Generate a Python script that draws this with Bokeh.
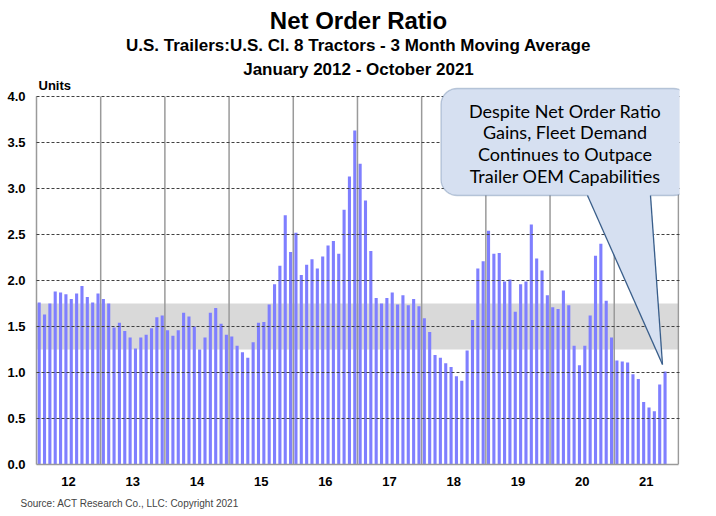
import math
from bokeh.plotting import figure
from bokeh.models import (FixedTicker, BoxAnnotation, PolyAnnotation, Label, Arrow, Title,
                          Range1d, ColumnDataSource, NumeralTickFormatter)
from bokeh.embed import file_html
from bokeh.resources import INLINE

# ---------------- data ----------------
year_labels = ["12", "13", "14", "15", "16", "17", "18", "19", "20", "21"]
ratio_2012 = [1.76, 1.63, 1.75, 1.88, 1.87, 1.85, 1.80, 1.86, 1.94, 1.82, 1.76, 1.86]
ratio_2013 = [1.80, 1.75, 1.49, 1.54, 1.45, 1.38, 1.26, 1.38, 1.41, 1.48, 1.60, 1.62]
ratio_2014 = [1.46, 1.40, 1.46, 1.65, 1.61, 1.50, 1.25, 1.38, 1.65, 1.70, 1.53, 1.41]
ratio_2015 = [1.39, 1.29, 1.22, 1.16, 1.33, 1.54, 1.55, 1.74, 1.96, 2.16, 2.71, 2.31]
ratio_2016 = [2.52, 2.06, 2.17, 2.23, 2.13, 2.26, 2.38, 2.43, 2.29, 2.77, 3.13, 3.63]
ratio_2017 = [3.27, 2.87, 2.32, 1.81, 1.75, 1.81, 1.87, 1.74, 1.84, 1.73, 1.80, 1.72]
ratio_2018 = [1.59, 1.44, 1.19, 1.16, 1.10, 1.06, 0.96, 0.91, 1.24, 1.57, 2.13, 2.21]
ratio_2019 = [2.54, 2.29, 2.30, 1.99, 2.01, 1.66, 1.96, 1.99, 2.61, 2.24, 2.11, 1.84]
ratio_2020 = [1.71, 1.69, 1.89, 1.73, 1.29, 1.08, 1.29, 1.62, 2.27, 2.40, 1.78, 1.38]
ratio_2021 = [1.13, 1.12, 1.11, 0.98, 0.93, 0.68, 0.62, 0.58, 0.87, 1.01]
y_tick_values = [0.0, 0.5, 1.0, 1.5, 2.0, 2.5, 3.0, 3.5, 4.0]
band_low, band_high = 1.25, 1.75

ratio = (ratio_2012 + ratio_2013 + ratio_2014 + ratio_2015 + ratio_2016 +
         ratio_2017 + ratio_2018 + ratio_2019 + ratio_2020 + ratio_2021)
month_pos = [i + 0.5 for i in range(len(ratio))]
n_months = 12 * len(year_labels)
year_bounds = [12 * k for k in range(1, len(year_labels) + 1)]
y_max = y_tick_values[-1]

# ---------------- layout ----------------
W, H = 716, 516
L, R, B = 36, 37, 52          # frame reaches the top of the canvas
X_END = n_months + 0.2        # small margin so the right border line is not clipped
PX_PER_UNIT = 92.0
FW = W - L - R
FH = H - B

def X(px):
    return (px - L) / FW * X_END

def Y(py):
    return (FH - py) / PX_PER_UNIT

p = figure(width=W, height=H, output_backend="svg", toolbar_location=None, title=None,
           x_range=Range1d(0, X_END), y_range=Range1d(0, Y(0)),
           min_border_left=L, min_border_right=R, min_border_top=0, min_border_bottom=B)
p.outline_line_color = None
p.background_fill_color = "white"
p.border_fill_color = "white"

band = BoxAnnotation(bottom=band_low, top=band_high, left=0, right=n_months,
                     fill_color="#D9D9D9", fill_alpha=1.0, line_color=None, level="image")
p.add_layout(band)

src = ColumnDataSource(dict(x=month_pos, top=ratio))
p.vbar(x="x", top="top", width=0.58, source=src, fill_color="#7F7FFF", line_color=None)

# year separators (vertical grid) limited to the value range
p.xgrid.visible = False
p.segment(x0=year_bounds, y0=[0] * len(year_bounds), x1=year_bounds,
          y1=[y_max] * len(year_bounds), line_color="#9A9A9A", line_width=1.5)

p.ygrid.ticker = FixedTicker(ticks=y_tick_values[1:])
p.ygrid.grid_line_color = "#404040"
p.ygrid.grid_line_dash = "3 2"
p.ygrid.grid_line_width = 1
p.ygrid.level = "guide"
p.ygrid.bounds = (0, n_months)

# axes
p.xaxis.ticker = FixedTicker(ticks=[12 * k + 6 for k in range(len(year_labels))])
p.xaxis.major_label_overrides = {12 * k + 6: lab for k, lab in enumerate(year_labels)}
p.xaxis.bounds = (0, n_months)
p.yaxis.ticker = FixedTicker(ticks=y_tick_values)
p.yaxis.formatter = NumeralTickFormatter(format="0.0")
p.yaxis.bounds = (0, y_max)
for ax in (p.xaxis, p.yaxis):
    ax.axis_line_color = "#9A9A9A"
    ax.axis_line_width = 1.5
    ax.major_tick_line_color = None
    ax.minor_tick_line_color = None
    ax.major_label_text_font = "Liberation Sans"
    ax.major_label_text_font_style = "bold"
    ax.major_label_text_font_size = "13px"
    ax.major_label_text_color = "black"
p.xaxis.major_label_standoff = 6
p.yaxis.major_label_standoff = 5

FONT = "Liberation Sans"

def add_text(txt, px, py, size, style="normal", align="center", font=FONT):
    p.add_layout(Label(x=X(px), y=Y(py), text=txt, text_align=align, text_baseline="middle",
                       text_font=font, text_font_size=size, text_font_style=style,
                       text_color="black", level="overlay"))

add_text("Net Order Ratio", 358, 20, "24px", "bold")
add_text("U.S. Trailers:U.S. Cl. 8 Tractors - 3 Month Moving Average", 358, 45, "17px", "bold")
add_text("January 2012 - October 2021", 358, 69, "17px", "bold")
add_text("Units", 38, 85, "13px", "bold", "left")

p.add_layout(Title(text="Source:  ACT Research Co., LLC: Copyright  2021", align="left",
                   offset=-16, text_font=FONT, text_font_size="10px",
                   text_font_style="normal", standoff=15), "below")

# callout: rounded box + tail
fill_c, edge_c = "#D6E0F1", "#385D8A"
bx0, bx1, by0, by1, rad = 440.5, 689.0, 88.0, 195.0, 16.0
pts = []
for cx, cy, a0 in ((bx1 - rad, by0 + rad, -90), (bx1 - rad, by1 - rad, 0),
                   (bx0 + rad, by1 - rad, 90), (bx0 + rad, by0 + rad, 180)):
    for k in range(10):
        a = math.radians(a0 + 90 * k / 9)
        pts.append((cx + rad * math.cos(a), cy + rad * math.sin(a)))
p.add_layout(PolyAnnotation(xs=[X(a) for a, _ in pts], ys=[Y(b) for _, b in pts],
                            fill_color=fill_c, fill_alpha=1.0, line_color=edge_c,
                            line_width=1.3, level="overlay"))
p.add_layout(PolyAnnotation(xs=[X(587), X(650), X(662)], ys=[Y(193.5), Y(193.5), Y(364)],
                            fill_color=fill_c, fill_alpha=1.0, line_color=None, level="overlay"))
for x0 in (587, 650):
    p.add_layout(Arrow(end=None, x_start=X(x0), y_start=Y(195), x_end=X(662), y_end=Y(364),
                       line_color=edge_c, line_width=1.3, level="overlay"))
callout_lines = ["Despite Net Order Ratio", "Gains, Fleet Demand",
                 "Continues to Outpace", "Trailer OEM Capabilities"]
for i, line in enumerate(callout_lines):
    add_text(line, 564.5, 110 + i * 21.7, "18px", "normal", "center", "Lato")

open("out.html", "w").write(file_html(p, INLINE))
